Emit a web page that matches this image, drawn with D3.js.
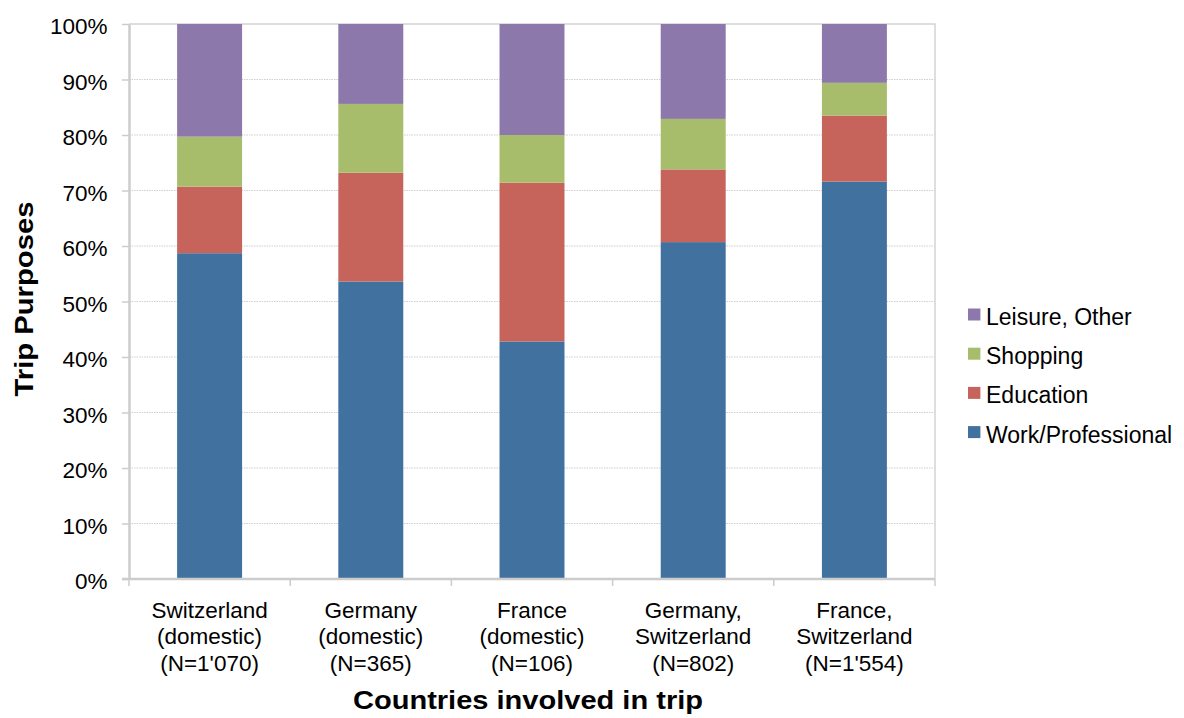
<!DOCTYPE html>
<html>
<head>
<meta charset="utf-8">
<script src="https://cdn.jsdelivr.net/npm/d3@7"></script>
<style>
  body { margin: 0; background: #fff; }
  text { font-family: "Liberation Sans", Arial, sans-serif; fill: #000; }
</style>
</head>
<body>
<svg id="chart" width="1184" height="718"></svg>
<script>
// Trip purpose shares (%) per group of countries involved
const categories = [
  ["Switzerland", "(domestic)", "(N=1'070)"],
  ["Germany", "(domestic)", "(N=365)"],
  ["France", "(domestic)", "(N=106)"],
  ["Germany,", "Switzerland", "(N=802)"],
  ["France,", "Switzerland", "(N=1'554)"]
];
const seriesNames = ["Work/Professional", "Education", "Shopping", "Leisure, Other"];
const work      = [58.7, 53.6, 42.8, 60.7, 71.6];
const education = [12.0, 19.6, 28.6, 13.1, 11.9];
const shopping  = [9.0, 12.4, 8.6, 9.1, 5.9];
const leisure   = [20.3, 14.4, 20.0, 17.1, 10.6];
const yTicks = [0, 10, 20, 30, 40, 50, 60, 70, 80, 90, 100];
const colors = ["#41719f", "#c6645c", "#a8bd6b", "#8d78ab"];

const seriesValues = [work, education, shopping, leisure];
const rows = categories.map((c, i) => {
  const r = { key: i };
  seriesNames.forEach((s, j) => r[s] = seriesValues[j][i]);
  return r;
});

const svg = d3.select("#chart");
const m = { left: 129, right: 935, top: 24, bottom: 579 };

const x = d3.scaleBand().domain(d3.range(categories.length))
  .range([m.left, m.right]).paddingInner(0.597).paddingOuter(0.2985);
const xOuter = d3.scaleBand().domain(d3.range(categories.length))
  .range([m.left, m.right]);
const y = d3.scaleLinear().domain([0, 100]).range([m.bottom, m.top]);

// dotted gridlines
svg.append("g").selectAll("line").data(yTicks.filter(t => t > 0 && t < 100)).join("line")
  .attr("x1", m.left).attr("x2", m.right)
  .attr("y1", d => y(d)).attr("y2", d => y(d))
  .attr("stroke", "#cfcfcf").attr("stroke-width", 1.2).attr("stroke-dasharray", "1.5,1");

// plot frame (top and right)
svg.append("path")
  .attr("d", `M${m.left},${m.top}H${m.right}V${m.bottom}`)
  .attr("fill", "none").attr("stroke", "#d4d4d4").attr("stroke-width", 1.5);

// stacked bars
const stacked = d3.stack().keys(seriesNames)(rows);
svg.append("g").selectAll("g").data(stacked).join("g")
  .attr("fill", (d, i) => colors[i])
  .selectAll("rect").data(d => d).join("rect")
  .attr("x", (d, i) => x(i))
  .attr("width", x.bandwidth())
  .attr("y", d => y(d[1]))
  .attr("height", d => y(d[0]) - y(d[1]));

// y axis
const yAxis = svg.append("g").attr("transform", `translate(${m.left},0)`)
  .call(d3.axisLeft(y).tickValues(yTicks).tickFormat(d => d + "%").tickSize(7).tickSizeOuter(0));
yAxis.select(".domain").attr("stroke", "#cccccc").attr("stroke-width", 2.5);
yAxis.selectAll(".tick line").attr("stroke", "#cccccc").attr("stroke-width", 1.5);
yAxis.selectAll(".tick text").attr("x", -21.5).attr("dy", "0.44em")
  .style("font-size", "22.5px").style("font-family", "Liberation Sans, Arial, sans-serif").attr("fill", "#000");

// x axis line and category separators
const xAxis = svg.append("g").attr("transform", `translate(0,${m.bottom})`);
xAxis.append("line").attr("x1", m.left - 7).attr("x2", m.right)
  .attr("stroke", "#cccccc").attr("stroke-width", 2.5);
xAxis.selectAll("line.sep").data(d3.range(categories.length + 1)).join("line")
  .attr("class", "sep")
  .attr("x1", d => m.left + d * xOuter.step()).attr("x2", d => m.left + d * xOuter.step())
  .attr("y1", 0).attr("y2", 7)
  .attr("stroke", "#cccccc").attr("stroke-width", 1.5);

// category labels
const lab = svg.append("g").selectAll("text").data(categories).join("text")
  .attr("text-anchor", "middle")
  .style("font-size", "22.5px");
lab.selectAll("tspan").data((d, i) => d.map(t => ({ t, i }))).join("tspan")
  .attr("x", d => x(d.i) + x.bandwidth() / 2)
  .attr("y", (d, k) => 617.5 + k * 26.5)
  .text(d => d.t);

// axis titles
svg.append("text").attr("x", 528).attr("y", 709)
  .attr("text-anchor", "middle").style("font-size", "25px").style("font-weight", "bold")
  .attr("textLength", 350).attr("lengthAdjust", "spacingAndGlyphs")
  .text("Countries involved in trip");
svg.append("text").attr("transform", `translate(33,299) rotate(-90)`)
  .attr("text-anchor", "middle").style("font-size", "25px").style("font-weight", "bold")
  .attr("textLength", 195).attr("lengthAdjust", "spacingAndGlyphs")
  .text("Trip Purposes");

// legend (top-down: reverse stacking order)
const legendOrder = d3.range(seriesNames.length).reverse();
const lg = svg.append("g").selectAll("g").data(legendOrder).join("g")
  .attr("transform", (d, k) => `translate(968,${325 + k * 39.2})`);
lg.append("rect").attr("x", 0).attr("y", -16.5).attr("width", 12.4).attr("height", 12)
  .attr("fill", d => colors[d]);
lg.append("text").attr("x", 18)
  .style("font-size", "23px").text(d => seriesNames[d]);
</script>
</body>
</html>
